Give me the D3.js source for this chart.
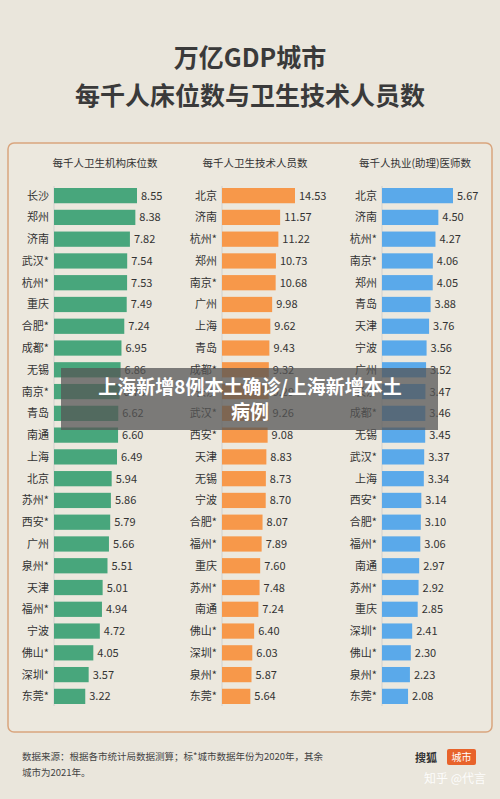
<!DOCTYPE html>
<html><head><meta charset="utf-8">
<script src="https://cdn.jsdelivr.net/npm/d3@7"></script>
<style>body{margin:0;background:#eae6dc;}svg{display:block;font-family:"Noto Sans CJK SC","Noto Sans",sans-serif;}</style>
</head><body><svg></svg>
<script>
// 每千人卫生机构床位数
const bedCities = ["长沙","郑州","济南","武汉*","杭州*","重庆","合肥*","成都*","无锡","南京*","青岛","南通","上海","北京","苏州*","西安*","广州","泉州*","天津","福州*","宁波","佛山*","深圳*","东莞*"];
const bedValues = [8.55,8.38,7.82,7.54,7.53,7.49,7.24,6.95,6.86,6.76,6.62,6.60,6.49,5.94,5.86,5.79,5.66,5.51,5.01,4.94,4.72,4.05,3.57,3.22];
// 每千人卫生技术人员数
const staffCities = ["北京","济南","杭州*","郑州","南京*","广州","上海","青岛","成都*","长沙","武汉*","西安*","天津","无锡","宁波","合肥*","福州*","重庆","苏州*","南通","佛山*","深圳*","泉州*","东莞*"];
const staffValues = [14.53,11.57,11.22,10.73,10.68,9.98,9.62,9.43,9.32,9.29,9.26,9.08,8.83,8.73,8.70,8.07,7.89,7.60,7.48,7.24,6.40,6.03,5.87,5.64];
// 每千人执业(助理)医师数
const docCities = ["北京","济南","杭州*","南京*","郑州","青岛","天津","宁波","广州","长沙","成都*","无锡","武汉*","上海","西安*","合肥*","福州*","南通","苏州*","重庆","深圳*","佛山*","泉州*","东莞*"];
const docValues = [5.67,4.50,4.27,4.06,4.05,3.88,3.76,3.56,3.52,3.47,3.46,3.45,3.37,3.34,3.14,3.10,3.06,2.97,2.92,2.85,2.41,2.30,2.23,2.08];

const W = 500, H = 799;
const svg = d3.select("svg").attr("width", W).attr("height", H);
svg.append("rect").attr("width", W).attr("height", H).attr("fill", "#eae6dc");

// header
svg.append("text").attr("x", 250).attr("y", 67).attr("text-anchor", "middle")
  .attr("font-size", 25).attr("font-weight", "bold").attr("fill", "#3a3a3a").text("万亿GDP城市");
svg.append("text").attr("x", 250).attr("y", 105).attr("text-anchor", "middle")
  .attr("font-size", 25).attr("font-weight", "bold").attr("fill", "#3a3a3a").text("每千人床位数与卫生技术人员数");

// panel
svg.append("rect").attr("x", 8).attr("y", 143).attr("width", 484).attr("height", 589)
  .attr("rx", 6).attr("fill", "#ece8de").attr("stroke", "#d9a57e").attr("stroke-width", 1.5);

const y = d3.scaleBand().domain(d3.range(24)).range([188, 704]).paddingInner(0.3);

const cols = [
  {title: "每千人卫生机构床位数", cities: bedCities, values: bedValues, x0: 54, max: 8.55, w: 83, color: "#48a67c", tx: 105},
  {title: "每千人卫生技术人员数", cities: staffCities, values: staffValues, x0: 222, max: 14.53, w: 73, color: "#f7984a", tx: 255},
  {title: "每千人执业(助理)医师数", cities: docCities, values: docValues, x0: 382, max: 5.67, w: 71, color: "#5aa9ea", tx: 415}
];

cols.forEach(c => {
  const x = d3.scaleLinear().domain([0, c.max]).range([c.x0, c.x0 + c.w]);
  const g = svg.append("g");
  g.append("text").attr("x", c.tx).attr("y", 167).attr("text-anchor", "middle")
    .attr("font-size", 10.5).attr("fill", "#333").text(c.title);
  g.append("line").attr("x1", c.x0).attr("x2", c.x0).attr("y1", 186).attr("y2", 706)
    .attr("stroke", "#ccc").attr("stroke-width", 0.8);
  g.selectAll("rect.bar").data(c.values).join("rect").attr("class", "bar")
    .attr("x", c.x0).attr("y", (d, i) => y(i)).attr("height", y.bandwidth())
    .attr("width", d => x(d) - c.x0).attr("fill", c.color);
  g.selectAll("text.city").data(c.cities).join("text").attr("class", "city")
    .attr("x", c.x0 - 5).attr("y", (d, i) => y(i) + y.bandwidth() / 2 + 4)
    .attr("text-anchor", "end").attr("font-size", 11).attr("fill", "#333").text(d => d);
  g.selectAll("text.val").data(c.values).join("text").attr("class", "val")
    .attr("x", d => x(d) + 4).attr("y", (d, i) => y(i) + y.bandwidth() / 2 + 4)
    .attr("font-size", 11).attr("fill", "#333").text(d => d.toFixed(2));
});

// footer
svg.append("text").attr("x", 22).attr("y", 760).attr("font-size", 9.5).attr("fill", "#444")
  .text("数据来源：根据各市统计局数据测算；标*城市数据年份为2020年，其余");
svg.append("text").attr("x", 22).attr("y", 776).attr("font-size", 9.5).attr("fill", "#444")
  .text("城市为2021年。");
svg.append("text").attr("x", 415).attr("y", 762).attr("font-size", 11).attr("font-weight", "bold").attr("fill", "#333").text("搜狐");
svg.append("rect").attr("x", 447).attr("y", 749).attr("width", 29).attr("height", 16).attr("rx", 2).attr("fill", "#e8632b");
svg.append("text").attr("x", 461.5).attr("y", 761).attr("text-anchor", "middle").attr("font-size", 10).attr("fill", "#fff").text("城市");
svg.append("text").attr("x", 486).attr("y", 783).attr("text-anchor", "end").attr("font-size", 12).attr("fill", "#fff").attr("opacity", 0.9).text("知乎 @代言");

// overlay
svg.append("rect").attr("x", 61).attr("y", 368).attr("width", 377).attr("height", 62).attr("fill", "#555").attr("opacity", 0.75);
svg.append("text").attr("x", 250).attr("y", 394).attr("text-anchor", "middle").attr("font-size", 19)
  .attr("font-weight", "bold").attr("fill", "#fff").text("上海新增8例本土确诊/上海新增本土");
svg.append("text").attr("x", 250).attr("y", 419).attr("text-anchor", "middle").attr("font-size", 19)
  .attr("font-weight", "bold").attr("fill", "#fff").text("病例");
</script></body></html>
